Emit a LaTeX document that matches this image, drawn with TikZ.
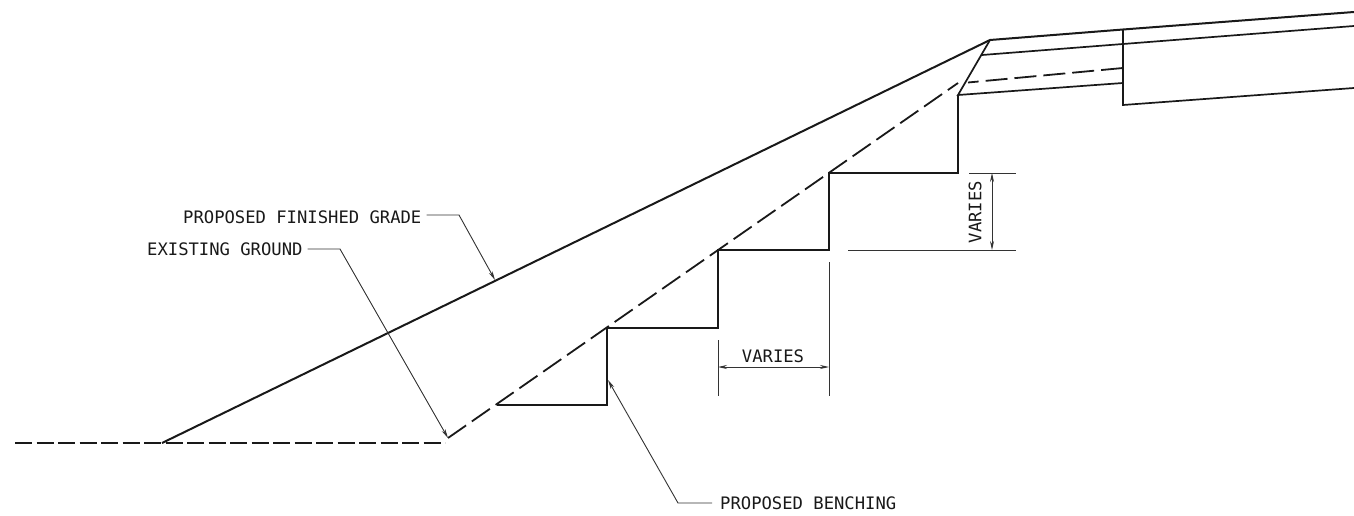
\documentclass[tikz,border=0pt]{standalone}
\usepackage{fontspec}
\setmainfont{DejaVu Sans Mono}
\usetikzlibrary{arrows.meta}
\tikzset{
  heavy/.style={line width=2pt,black!90,line join=miter},
  medium/.style={line width=1.7pt,black!90},
  dashline/.style={line width=1.8pt,black!90,dash pattern=on 17pt off 4.5pt},
  dashslope/.style={line width=1.8pt,black!90,dash pattern=on 22pt off 7pt},
  thinline/.style={line width=0.9pt,black!80},
  leader/.style={thinline,-{Stealth[length=9pt,width=4pt]}},
  dimline/.style={thinline,{Stealth[length=9pt,width=4pt]}-{Stealth[length=9pt,width=4pt]}},
  lab/.style={font=\fontsize{17.2pt}{18pt}\selectfont,inner sep=0pt,text=black!90}
}
\begin{document}
\begin{tikzpicture}[x=1pt,y=-1pt]
\useasboundingbox (0,0) rectangle (1354,516);
\fill[white] (0,0) rectangle (1354,516);
% coordinates
\coordinate (gl) at (15,443);
\coordinate (gk) at (445,443);
\coordinate (gt) at (958,83);
\coordinate (ft) at (162,443);
\coordinate (crown) at (990,40);
\coordinate (sTop) at (1123,29.5);
\coordinate (sEnd) at (1354,12);
\coordinate (bS) at (982,55);
\coordinate (bM) at (1123,44);
\coordinate (bE) at (1354,26);
\coordinate (toe) at (958,95);
\coordinate (tM) at (1123,83);
\coordinate (dsh) at (1123,68);
\coordinate (dshS) at (968,82.5);
\coordinate (vb) at (1123,105);
\coordinate (vE) at (1354,88);
% surface
\draw[heavy] (ft) -- (crown) -- (sTop) -- (sEnd);
\draw[medium] (bS) -- (bM) -- (bE);
\draw[medium] (crown) -- (toe) -- (tM);
\draw[medium] (sTop) -- (vb) -- (vE);
\draw[dashslope] (dsh) -- (dshS);
% existing ground
\draw[dashline] (gl) -- (gk);
\draw[dashslope] (gk) ++(3,-5) -- (gt);
% benching
\draw[heavy] (toe) -- (958,173) -- (829,173) -- (829,250) -- (718,250) -- (718,328) -- (607,328) -- (607,405) -- (497,405);
% vertical dimension
\coordinate (d1a) at (969,173);
\coordinate (d1b) at (1016,173);
\coordinate (d2a) at (848,250);
\coordinate (d2b) at (1016,250);
\coordinate (dt) at (992,173);
\coordinate (db) at (992,250);
\draw[thinline] (d1a) -- (d1b);
\draw[thinline] (d2a) -- (d2b);
\draw[dimline] (dt) -- (db);
\node[lab,rotate=90] (v1) at (975,212) {VARIES};
% horizontal dimension
\coordinate (e1a) at (718,340);
\coordinate (e1b) at (718,396);
\coordinate (e2a) at (829,262);
\coordinate (e2b) at (829,396);
\coordinate (hl) at (718,367);
\coordinate (hr) at (829,367);
\draw[thinline] (e1a) -- (e1b);
\draw[thinline] (e2a) -- (e2b);
\draw[dimline] (hl) -- (hr);
\node[lab] (v2) at (773,356) {VARIES};
% labels and leaders
\node[lab,anchor=west] (fg) at (183,217) {PROPOSED FINISHED GRADE};
\coordinate (fgk) at (459,215);
\coordinate (fga) at (495,280);
\draw[leader] (fg.east) ++(5,-2) -- (fgk) -- (fga);
\node[lab,anchor=west] (eg) at (147,249) {EXISTING GROUND};
\coordinate (egk) at (340,249);
\coordinate (ega) at (448,438);
\draw[leader] (eg.east) ++(5,0) -- (egk) -- (ega);
\node[lab,anchor=west] (pb) at (720,503) {PROPOSED BENCHING};
\coordinate (pbk) at (678,503);
\coordinate (pba) at (608,380);
\draw[leader] (pb.west) ++(-8,0) -- (pbk) -- (pba);
\end{tikzpicture}
\end{document}
